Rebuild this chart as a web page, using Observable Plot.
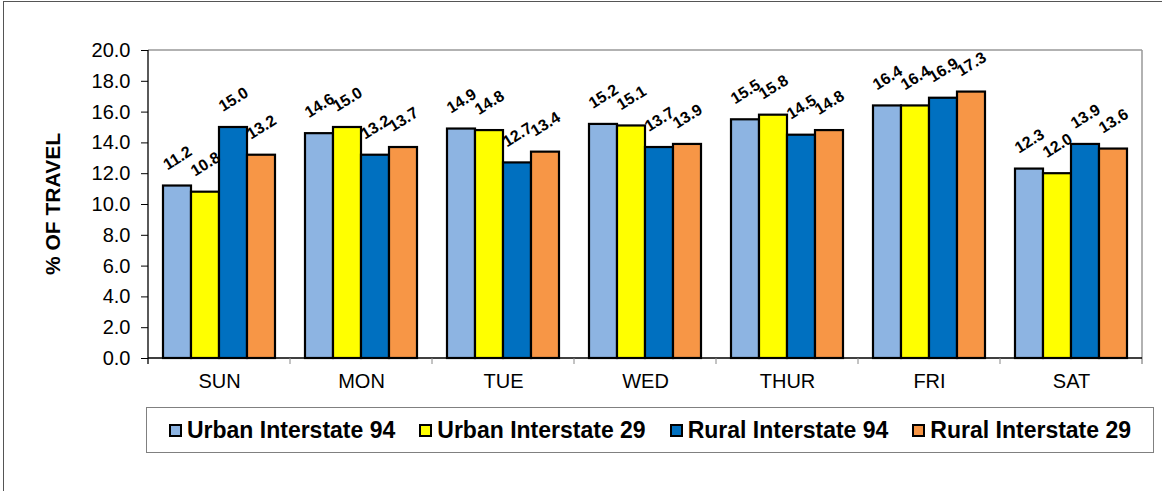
<!DOCTYPE html>
<html><head><meta charset="utf-8">
<script src="https://cdn.jsdelivr.net/npm/d3@7"></script>
<script src="https://cdn.jsdelivr.net/npm/@observablehq/plot@0.6"></script>
<style>
body{margin:0;background:#fff;font-family:"Liberation Sans",Arial,sans-serif;}
#wrap{position:relative;width:1162px;height:491px;overflow:hidden}
#border{position:absolute;left:3px;top:1px;width:1200px;height:600px;border-left:1px solid #555;border-top:1px solid #555}
#chart{position:absolute;left:0;top:0}
#legend{position:absolute;left:146px;top:407px;width:1008px;height:46px;border:1px solid #808080;display:flex;align-items:center;justify-content:center;gap:24px;box-sizing:border-box;background:#fff}
.item{display:flex;align-items:center;font-weight:bold;font-size:23px;color:#000}
.sw{width:9px;height:9px;border:2px solid #000;margin-right:5px}
</style>
</head><body>
<div id="wrap"><div id="border"></div><div id="chart"></div><div id="legend"></div></div>
<script>
const days = ["SUN","MON","TUE","WED","THUR","FRI","SAT"];
const seriesNames = ["Urban Interstate 94","Urban Interstate 29","Rural Interstate 94","Rural Interstate 29"];
const colors = ["#8DB4E2","#FFFF00","#0070C0","#F79646"];
const urban94 = [11.2,14.6,14.9,15.2,15.5,16.4,12.3];
const urban29 = [10.8,15.0,14.8,15.1,15.8,16.4,12.0];
const rural94 = [15.0,13.2,12.7,13.7,14.5,16.9,13.9];
const rural29 = [13.2,13.7,13.4,13.9,14.8,17.3,13.6];
const yTicks = [0,2,4,6,8,10,12,14,16,18,20];
const yLabel = "% OF TRAVEL";

const seriesValues = [urban94, urban29, rural94, rural29];
const table = [];
days.forEach((day, i) => seriesNames.forEach((s, j) => table.push({day, series: s, value: seriesValues[j][i]})));

const chart = Plot.plot({
  width: 1162, height: 400,
  marginLeft: 146, marginRight: 18, marginTop: 50, marginBottom: 42,
  style: {fontFamily: "Liberation Sans, Arial, sans-serif", background: "transparent", overflow: "visible", color: "#000"},
  fx: {domain: days, padding: 0, label: null},
  x: {domain: seriesNames, paddingInner: 0, paddingOuter: 0.47, axis: null},
  y: {domain: [0, 20], label: null},
  color: {domain: seriesNames, range: colors},
  marks: [
    Plot.axisY({ticks: yTicks, tickFormat: d => d.toFixed(1), tickSize: 7, tickPadding: 11, fontSize: 20, label: null}),
    Plot.axisFx({anchor: "bottom", tickSize: 0, tickPadding: 15, fontSize: 20, label: null}),
    Plot.barY(table, {fx: "day", x: "series", y: "value", fill: "series", stroke: "black", strokeWidth: 2.2}),
    Plot.text(table, {fx: "day", x: "series", y: "value", text: d => d.value.toFixed(1), rotate: -32, dy: -28, fontSize: 16, fontWeight: "bold", fill: "black"})
  ]
});
document.getElementById("chart").appendChild(chart);

const svg = d3.select(chart);
const fx = chart.scale("fx"), y = chart.scale("y");
const y0 = y.apply(0), y20 = y.apply(20);
const left = fx.apply(days[0]), right = fx.apply(days[days.length - 1]) + fx.bandwidth;
const g = svg.append("g");
g.append("line").attr("x1", left).attr("x2", right).attr("y1", y20).attr("y2", y20).attr("stroke", "#999").attr("stroke-width", 1.5);
g.append("line").attr("x1", right).attr("x2", right).attr("y1", y20).attr("y2", y0 + 6).attr("stroke", "#999").attr("stroke-width", 1.5);
g.append("line").attr("x1", left).attr("x2", left).attr("y1", y20).attr("y2", y0 + 6).attr("stroke", "#000").attr("stroke-width", 1.3);
g.append("line").attr("x1", left).attr("x2", right).attr("y1", y0).attr("y2", y0).attr("stroke", "#000").attr("stroke-width", 1.3);
days.slice(1).forEach(d => {
  const x = fx.apply(d);
  g.append("line").attr("x1", x).attr("x2", x).attr("y1", y0).attr("y2", y0 + 6).attr("stroke", "#888");
});
svg.append("text").attr("transform", `translate(53,${(y0 + y20) / 2}) rotate(-90)`)
  .attr("text-anchor", "middle").attr("dy", "0.35em")
  .attr("font-size", 21).attr("font-weight", "bold").attr("fill", "#000").text(yLabel);

const legend = document.getElementById("legend");
seriesNames.forEach((s, j) => {
  const it = document.createElement("div"); it.className = "item";
  const sw = document.createElement("span"); sw.className = "sw"; sw.style.background = colors[j];
  it.appendChild(sw); it.appendChild(document.createTextNode(s));
  legend.appendChild(it);
});
</script>
</body></html>
